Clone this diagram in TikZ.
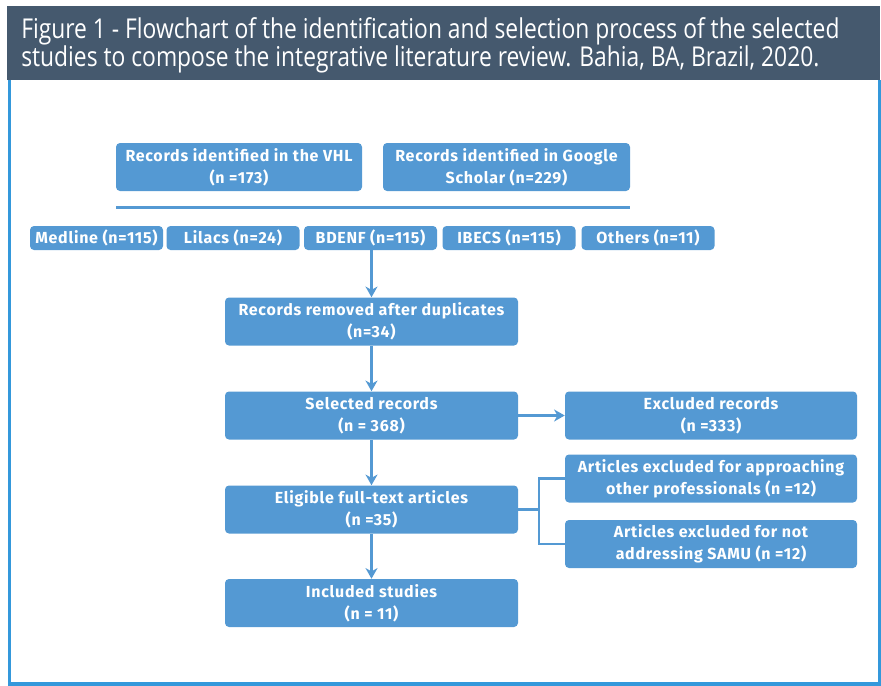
\documentclass[tikz,border=0pt]{standalone}
\usepackage{fontspec}
\setmainfont{Fira Sans}
\newfontfamily\boxfont[LetterSpace=4.5]{Fira Sans}
\newfontfamily\titlefont[FakeStretch=0.835]{Open Sans}
\usetikzlibrary{arrows.meta}

\definecolor{headgray}{RGB}{69,89,110}
\definecolor{boxblue}{RGB}{84,153,211}
\definecolor{frameblue}{RGB}{52,152,219}

\tikzset{
  flowbox/.style={rectangle, rounded corners=3pt, fill=boxblue, text=white,
    font=\boxfont\fontsize{12}{16.5}\selectfont\bfseries, align=center, inner sep=0pt,
    minimum width=219.75pt, minimum height=36pt},
  sidebox/.style={flowbox, minimum width=219pt},
  dbbox/.style={flowbox, minimum width=99.75pt, minimum height=18pt},
  flowarrow/.style={boxblue, line width=2.25pt, -{Stealth[length=8pt,width=9pt,inset=2.5pt]}},
  flowline/.style={boxblue, line width=1.6pt}
}

\begin{document}
\begin{tikzpicture}[x=0.75pt,y=0.75pt,yscale=-1,xscale=1]
\useasboundingbox (0,0) rectangle (881,685);

% header and frame
\fill[headgray] (7,6) rectangle (880,80);
\node[anchor=north west, inner sep=0pt, text=white, align=left,
  font=\titlefont\fontsize{20.5}{19.5}\selectfont] (title) at (21,17)
  {Figure 1 - Flowchart of the identification and selection process of the selected\\
   studies to compose the integrative literature review. Bahia, BA, Brazil, 2020.};
\draw[frameblue, line width=2.4pt] (9.5,80) -- (9.5,684) -- (879.5,684) -- (879.5,80);

% sources
\node[flowbox, minimum width=184.5pt] (vhl) at (239,167) {Records identified in the VHL\\(n =173)};
\node[flowbox, minimum width=185.25pt] (gs) at (506.5,167) {Records identified in Google\\Scholar (n=229)};
\coordinate (sepl) at (116,207);
\coordinate (sepr) at (630,207);
\draw[boxblue, line width=2.25pt] (sepl) -- (sepr);

% databases
\node[dbbox] (medline) at (96.5,238) {Medline (n=115)};
\node[dbbox] (lilacs) at (233,238) {Lilacs (n=24)};
\node[dbbox] (bdenf) at (370.5,238) {BDENF (n=115)};
\node[dbbox] (ibecs) at (509,238) {IBECS (n=115)};
\node[dbbox] (others) at (648,238) {Others (n=11)};

% main flow
\node[flowbox] (dup) at (371.5,321.5) {Records removed after duplicates\\(n=34)};
\node[flowbox] (sel) at (371.5,415.5) {Selected records\\(n = 368)};
\node[flowbox] (elig) at (371.5,509.5) {Eligible full-text articles\\(n =35)};
\node[flowbox] (incl) at (371.5,603) {Included studies\\(n = 11)};

% exclusions
\node[sidebox] (exc) at (711,415.5) {Excluded records\\(n =333)};
\node[sidebox] (appr) at (711,478.5) {Articles excluded for approaching\\other professionals (n =12)};
\node[sidebox] (samu) at (711,544) {Articles excluded for not\\addressing SAMU (n =12)};

\draw[flowarrow] (bdenf.south -| dup.north) -- (dup.north);
\draw[flowarrow] (dup) -- (sel);
\draw[flowarrow] (sel) -- (elig);
\draw[flowarrow] (elig) -- (incl);
\draw[flowarrow] (sel) -- (exc);

\coordinate (brk) at (539,509.5);
\draw[flowline] (elig.east) -- (brk);
\draw[flowline] (appr.west) -| (brk) |- (samu.west);

\end{tikzpicture}
\end{document}
